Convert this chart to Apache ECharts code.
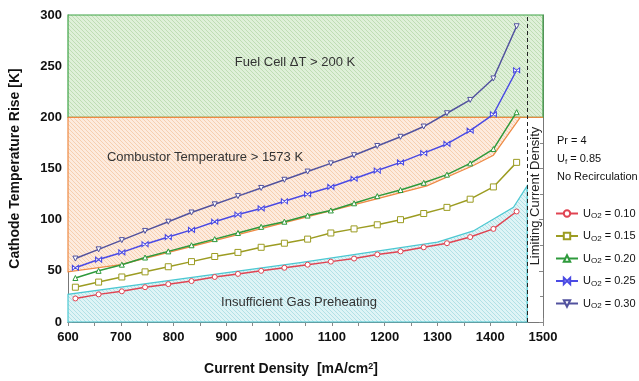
<!DOCTYPE html>
<html>
<head>
<meta charset="utf-8">
<script src="https://cdn.jsdelivr.net/npm/echarts@6/dist/echarts.min.js"></script>
<style>
  html, body { margin: 0; padding: 0; background: #fff; }
  #chart { width: 639px; height: 381px; }
</style>
</head>
<body>
<div id="chart"></div>
<script>
// Current density sample points [mA/cm^2]
const currentDensity = [614, 658, 702, 746, 790, 834, 878, 922, 966, 1010, 1054, 1098, 1142, 1186, 1230, 1274, 1318, 1362, 1406, 1450];

// Cathode temperature rise [K] for each oxygen utilization
const uo2_010 = [23, 27, 30, 34, 37, 40, 44, 47, 50, 53, 56, 59, 62, 66, 69, 73, 77, 83, 91, 108];
const uo2_015 = [34, 39, 44, 49, 54, 59, 64, 68, 73, 77, 81, 87, 91, 95, 100, 106, 112, 120, 132, 156];
const uo2_020 = [43, 50, 56, 63, 69, 75, 81, 87, 93, 98, 104, 109, 116, 123, 129, 136, 144, 155, 169, 205];
const uo2_025 = [53, 61, 68, 76, 83, 90, 98, 105, 111, 118, 125, 132, 140, 148, 156, 165, 174, 187, 203, 246];
const uo2_030 = [62, 71, 80, 89, 98, 107, 115, 123, 131, 139, 147, 155, 163, 172, 181, 191, 204, 217, 238, 289];

const seriesNames = ['0.10', '0.15', '0.20', '0.25', '0.30'];

// Operating-window boundaries (current density, temperature rise)
const fuelCellZone = [[600, 200], [1500, 200], [1500, 300], [600, 300]];
const combustorZone = [[600, 200], [1457, 200], [1406, 163], [1368, 153], [1280, 133], [1040, 101], [700, 56], [600, 49]];
const preheatZone = [[600, 0], [600, 27], [1040, 58], [1300, 78], [1368, 89], [1444, 112], [1470, 133], [1470, 0]];
const limitingCurrent = 1470;

const xTicks = { min: 600, max: 1500, step: 100 };
const yTicks = { min: 0, max: 300, step: 50 };

// Diagonal hatch fill pattern
function hatch(bg, line) {
  const c = document.createElement('canvas');
  c.width = 4; c.height = 4;
  const g = c.getContext('2d');
  g.fillStyle = bg; g.fillRect(0, 0, 4, 4);
  g.strokeStyle = line; g.lineWidth = 1;
  g.beginPath();
  g.moveTo(-1, -1); g.lineTo(5, 5);
  g.moveTo(3, -1); g.lineTo(5, 1);
  g.moveTo(-1, 3); g.lineTo(1, 5);
  g.stroke();
  return { image: c, repeat: 'repeat' };
}

function zone(points, fill, stroke, extra) {
  return {
    type: 'custom',
    silent: true,
    z: 1,
    data: [points[0]],
    encode: { x: 0, y: 1 },
    renderItem: function (params, api) {
      const children = [{
        type: 'polygon',
        shape: { points: points.map(p => api.coord(p)) },
        style: { fill: fill, stroke: stroke, lineWidth: 1.2 }
      }];
      if (extra) {
        children.push({
          type: 'polyline',
          shape: { points: extra.map(p => api.coord(p)) },
          style: { fill: null, stroke: stroke, lineWidth: 1.2 }
        });
      }
      return { type: 'group', children: children };
    }
  };
}

const colors = ['#e04452', '#9c9c22', '#2e9a3c', '#4a4ae4', '#52529e'];
const symbols = ['circle', 'rect', 'triangle', 'path://M0,0L10,10L10,0L0,10Z', 'triangle'];
const values = [uo2_010, uo2_015, uo2_020, uo2_025, uo2_030];

const font = 'Arial, "Liberation Sans", sans-serif';

const lineSeries = values.map((vals, i) => ({
  type: 'line',
  name: seriesNames[i],
  data: currentDensity.map((x, k) => [x, vals[k]]),
  z: 5,
  symbol: symbols[i],
  symbolSize: i === 3 ? [6, 5] : (i === 1 ? 6 : 5),
  symbolRotate: i === 4 ? 180 : 0,
  lineStyle: { color: colors[i], width: 1.5 },
  itemStyle: { color: '#fff', borderColor: colors[i], borderWidth: 1 },
  emphasis: { disabled: true }
}));

lineSeries[0].markLine = {
  silent: true,
  symbol: 'none',
  label: { show: false },
  lineStyle: { type: [4, 3], color: '#222', width: 1 },
  data: [{ xAxis: limitingCurrent }]
};

const plainNumber = v => String(v);

const option = {
  animation: false,
  grid: { left: 66, right: 96, top: 15, bottom: 49 },
  xAxis: [{
    type: 'value', min: xTicks.min, max: xTicks.max, interval: xTicks.step,
    name: 'Current Density  [mA/cm{sup|2}]',
    nameLocation: 'middle', nameGap: 40,
    nameTextStyle: {
      fontFamily: font, fontSize: 14, fontWeight: 'bold', color: '#111',
      padding: [0, 29, 0, 0],
      rich: { sup: { fontFamily: font, fontSize: 9, fontWeight: 'bold', color: '#111', verticalAlign: 'top', lineHeight: 9, padding: [0, 0, 4, 0] } }
    },
    axisLine: { show: true, lineStyle: { color: '#777' } },
    axisTick: { inside: true, length: 4, lineStyle: { color: '#888' } },
    minorTick: { show: true, splitNumber: 2, length: 4, lineStyle: { color: '#888' } },
    splitLine: { show: false },
    axisLabel: { fontFamily: font, fontSize: 13, fontWeight: 'bold', color: '#111', margin: 9, formatter: plainNumber }
  }, {
    type: 'value', position: 'top', min: xTicks.min, max: xTicks.max, interval: xTicks.step,
    axisLine: { show: true, lineStyle: { color: '#777' } },
    axisTick: { inside: true, length: 4, lineStyle: { color: '#888' } },
    minorTick: { show: true, splitNumber: 2, length: 4, lineStyle: { color: '#888' } },
    splitLine: { show: false }, axisLabel: { show: false }
  }],
  yAxis: [{
    type: 'value', min: yTicks.min, max: yTicks.max, interval: yTicks.step,
    name: 'Cathode Temperature Rise [K]',
    nameLocation: 'middle', nameGap: 46,
    nameTextStyle: { fontFamily: font, fontSize: 14, fontWeight: 'bold', color: '#111' },
    axisLine: { show: true, lineStyle: { color: '#777' } },
    axisTick: { inside: true, length: 4, lineStyle: { color: '#888' } },
    minorTick: { show: true, splitNumber: 2, length: 3, lineStyle: { color: '#888' } },
    splitLine: { show: false },
    axisLabel: { fontFamily: font, fontSize: 13, fontWeight: 'bold', color: '#111', margin: 6, formatter: plainNumber }
  }, {
    type: 'value', position: 'right', min: yTicks.min, max: yTicks.max, interval: yTicks.step,
    axisLine: { show: true, lineStyle: { color: '#777' } },
    axisTick: { inside: true, length: 4, lineStyle: { color: '#888' } },
    minorTick: { show: true, splitNumber: 2, length: 3, lineStyle: { color: '#888' } },
    splitLine: { show: false }, axisLabel: { show: false }
  }],
  legend: {
    orient: 'vertical',
    left: 550, top: 202,
    itemWidth: 22, itemHeight: 8, itemGap: 9.5,
    data: seriesNames,
    formatter: name => 'U{sub|O2} = ' + name,
    textStyle: {
      fontFamily: font, fontSize: 11, color: '#111', lineHeight: 13,
      rich: { sub: { fontFamily: font, fontSize: 8, color: '#111', lineHeight: 8, verticalAlign: 'bottom', padding: [3, 0, 0, 0] } }
    }
  },
  graphic: [
    { type: 'text', x: 295, y: 62, style: { text: 'Fuel Cell \u0394T > 200 K', font: '13px ' + font, fill: '#333', align: 'center', verticalAlign: 'middle' }, z: 10 },
    { type: 'text', x: 205, y: 157, style: { text: 'Combustor Temperature > 1573 K', font: '13px ' + font, fill: '#333', align: 'center', verticalAlign: 'middle' }, z: 10 },
    { type: 'text', x: 299, y: 302, style: { text: 'Insufficient Gas Preheating', font: '13px ' + font, fill: '#333', align: 'center', verticalAlign: 'middle' }, z: 10 },
    { type: 'text', x: 535, y: 196, rotation: Math.PI / 2, style: { text: 'Limiting Current Density', font: '13px ' + font, fill: '#222', align: 'center', verticalAlign: 'middle' }, z: 10 },
    { type: 'text', x: 557, y: 141, style: { text: 'Pr = 4', font: '11px ' + font, fill: '#111', verticalAlign: 'middle' }, z: 10 },
    { type: 'text', x: 557, y: 159, style: {
        text: 'U{sub|f} = 0.85', font: '11px ' + font, fill: '#111', verticalAlign: 'middle', lineHeight: 13,
        rich: { sub: { font: '8px ' + font, fill: '#111', lineHeight: 8, verticalAlign: 'bottom', padding: [3, 0, 0, 0] } }
      }, z: 10 },
    { type: 'text', x: 557, y: 177, style: { text: 'No Recirculation', font: '11px ' + font, fill: '#111', verticalAlign: 'middle' }, z: 10 }
  ],
  series: [
    zone(fuelCellZone, hatch('#dff0d9', '#bfddb4'), '#3ea447'),
    zone(preheatZone, hatch('#dff4f6', '#b2e1e6'), '#4cc8d2'),
    zone(combustorZone, hatch('#fdebde', '#f6cfb0'), '#ee8a44', [[1457, 200], [1500, 200]])
  ].concat(lineSeries)
};

const chart = echarts.init(document.getElementById('chart'), null, { renderer: 'canvas' });
chart.setOption(option);
</script>
</body>
</html>
